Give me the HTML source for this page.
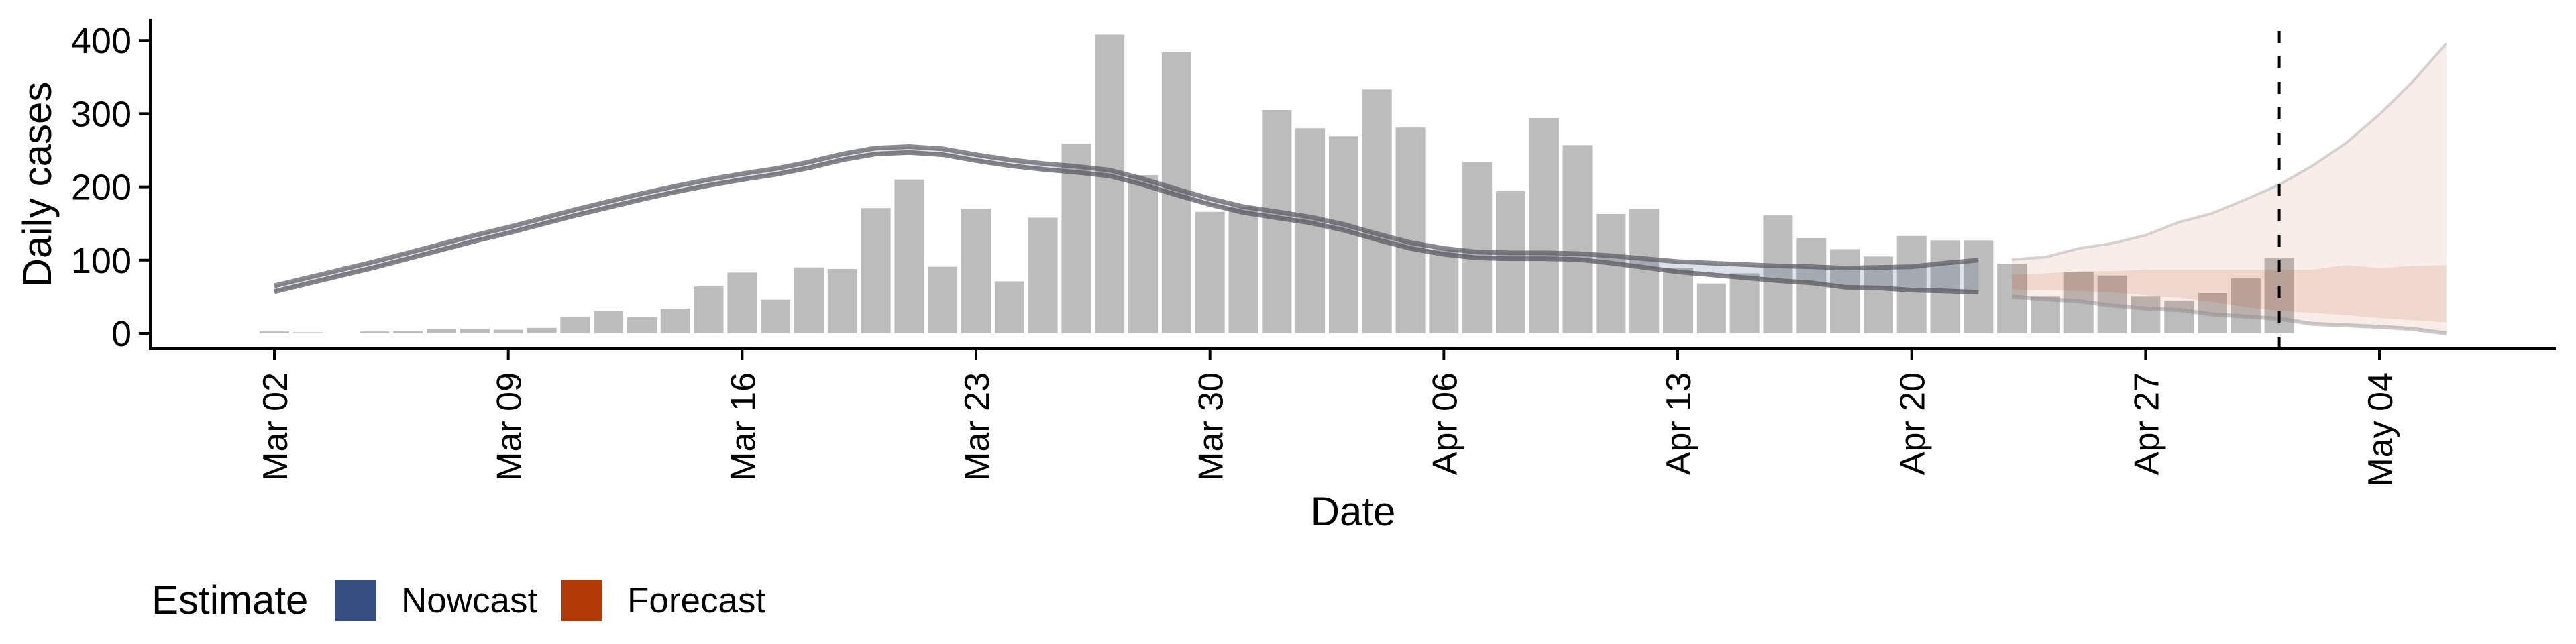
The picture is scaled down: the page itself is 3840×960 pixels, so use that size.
<!DOCTYPE html>
<html><head><meta charset="utf-8"><style>
html,body{margin:0;padding:0;background:#fff;}
svg{display:block;font-family:"Liberation Sans",sans-serif;}
</style></head><body>
<svg id="chart" width="3840" height="960" viewBox="0 0 3840 960">
<g id="plot"></g>
<g id="axes"></g>
</svg>
<script>
const yTicks = [0, 100, 200, 300, 400];
const xTickLabels = ["Mar 02","Mar 09","Mar 16","Mar 23","Mar 30","Apr 06","Apr 13","Apr 20","Apr 27","May 04"];
const xTickDays = [0,7,14,21,28,35,42,49,56,63];
// daily reported cases, starting Mar 02 (day 0)
const cases = [2.6,1.5,0,2.6,3.6,6,6,5,7.5,23,31,22,34,64,83,46,90,88,171,210,91,170,71,158,259,408,216,384,166,172,305,280,269,333,281,114,234,194,294,257,163,170,89,68,82,161,130,115,105,133,127,127,95,51,84,79,51,45,55,75,103];
// nowcast central estimate, Mar 02 .. Apr 22
const nowcastMid = [61,72,83,94,106,118,130,141,153,165,176,187,197,206,214,221,230,241,249,251,248,240,233,228,224,219,207,193,180,169,162,155,145,132,120,112,107,106,106,105,101,96,91,88,85,82,80,76,76,75,77,78];
const nowcastHalf = [4,4,4,4,4,4,4,4,4,4,4,4,4,4,4,4,4,4,4,4,4,4,4,4,4,4,4,4,4,4,4,4,4,4,4,4,4,4,4,4,5,6,7,8,9,10,11,13,14,16,19,22];
// forecast Apr 23 .. May 06 (start day 52)
const forecastStart = 52;
const fcOuterUpper = [101,104,116,123,134,152,164,183,203,229,260,299,344,396];
const fcOuterLower = [50,47,44,38,34,32,26,23,20,13,11,9,6,0];
const fcInnerUpper = [80,82,85,85,87,87,87,87,87,87,93,89,92,93];
const fcInnerLower = [60,59,58,56,52,49,43,36,31,28,25,21,18,15];
const forecastDateDay = 60;

const NS = "http://www.w3.org/2000/svg";
const X0 = 409, DAY = 49.81, Y0 = 497, YPER = 1.092;
const xs = d => X0 + d * DAY;
const ys = v => Y0 - v * YPER;
function mk(tag, attrs, parent){const e=document.createElementNS(NS,tag);for(const k in attrs)e.setAttribute(k,attrs[k]);parent.appendChild(e);return e;}
const plot = document.getElementById("plot");
const axes = document.getElementById("axes");

cases.forEach((v,i)=>{
  if(v<=0) return;
  const r = mk("rect",{x:xs(i)-22,y:ys(v),width:44,height:v*YPER,fill:"#bcbcbc"},plot);
  
  
});

function linePts(start, arr){return arr.map((v,i)=>xs(start+i).toFixed(1)+","+ys(v).toFixed(1));}
function band(start, up, lo, attrs, name){
  const pts = linePts(start, up).concat(linePts(start, lo).reverse());
  const p = mk("polygon",Object.assign({points:pts.join(" ")},attrs),plot);
  
  
}
function line(start, arr, attrs, name){
  const p = mk("polyline",Object.assign({points:linePts(start,arr).join(" "),fill:"none","stroke-linejoin":"round"},attrs),plot);
  
  
}

const nUp = nowcastMid.map((m,i)=>m+nowcastHalf[i]);
const nLo = nowcastMid.map((m,i)=>m-nowcastHalf[i]);
band(0,nUp,nLo,{fill:"#364e82","fill-opacity":"0.17"},"nowcast-band");
line(0,nUp,{stroke:"#5a5a60","stroke-width":"7","stroke-opacity":"0.7"},"nowcast-upper-line");
line(0,nLo,{stroke:"#5a5a60","stroke-width":"7","stroke-opacity":"0.75"},"nowcast-lower-line");

band(forecastStart,fcOuterUpper,fcOuterLower,{fill:"#b23a07","fill-opacity":"0.09"},"forecast-outer-band");
band(forecastStart,fcInnerUpper,fcInnerLower,{fill:"#b23a07","fill-opacity":"0.12"},"forecast-inner-band");
line(forecastStart,fcOuterUpper,{stroke:"#bdb8b8","stroke-width":"4","stroke-opacity":"0.6"},"forecast-upper-line");
line(forecastStart,fcOuterLower,{stroke:"#8a8a8a","stroke-width":"6","stroke-opacity":"0.45"},"forecast-lower-line");

const dl = mk("line",{x1:xs(forecastDateDay),x2:xs(forecastDateDay),y1:46,y2:519,stroke:"#000","stroke-width":"4","stroke-dasharray":"18 20"},plot);



const ya = mk("line",{x1:224,x2:224,y1:28,y2:521,stroke:"#000","stroke-width":"4"},axes);


const xa = mk("line",{x1:222,x2:3810,y1:519,y2:519,stroke:"#000","stroke-width":"4"},axes);



yTicks.forEach(v=>{
  const t = mk("line",{x1:207,x2:224,y1:ys(v),y2:ys(v),stroke:"#000","stroke-width":"4"},axes);
  
  
  const l = mk("text",{x:196,y:ys(v)+19,"text-anchor":"end","font-size":"54",fill:"#000"},axes);
  l.textContent = v;
  
  
});
xTickDays.forEach((d,i)=>{
  const x = xs(d);
  const t = mk("line",{x1:x,x2:x,y1:519,y2:536,stroke:"#000","stroke-width":"4"},axes);
  
  
  const l = mk("text",{x:0,y:0,"text-anchor":"end","font-size":"52",fill:"#000",transform:`translate(${x+19},555) rotate(-90)`},axes);
  l.textContent = xTickLabels[i];
  
  
});

const yt = mk("text",{x:0,y:0,"text-anchor":"middle","font-size":"60",fill:"#000",transform:"translate(76,275) rotate(-90)"},axes);
yt.textContent = "Daily cases";


const xt = mk("text",{x:2017,y:783,"text-anchor":"middle","font-size":"60",fill:"#000"},axes);
xt.textContent = "Date";



const lg = mk("g",{},axes);


const lt = mk("text",{x:226,y:915,"font-size":"60",fill:"#000"},lg);
lt.textContent = "Estimate";


const k1 = mk("rect",{x:500,y:864,width:61,height:62,fill:"#364e82"},lg);


const t1 = mk("text",{x:598,y:913,"font-size":"53",fill:"#000"},lg);
t1.textContent = "Nowcast";


const k2 = mk("rect",{x:837,y:864,width:61,height:62,fill:"#b23a07"},lg);


const t2 = mk("text",{x:935,y:913,"font-size":"53",fill:"#000"},lg);
t2.textContent = "Forecast";


</script>
</body></html>
